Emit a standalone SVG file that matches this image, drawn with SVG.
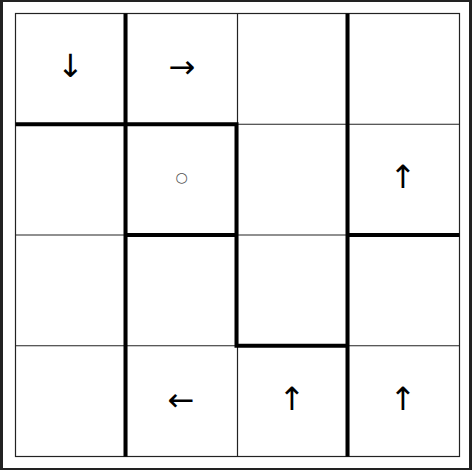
<svg xmlns="http://www.w3.org/2000/svg" width="472" height="470" viewBox="0 0 472 470">
<style>
.thin{stroke:#222;stroke-width:1.2;fill:none}
.thick{stroke:#000;stroke-width:4;stroke-linecap:butt;stroke-linejoin:miter;fill:none}
.sym{font-family:"DejaVu Sans",sans-serif;font-size:32px;fill:#000;text-anchor:middle;dominant-baseline:central}
.dot{font-family:"DejaVu Sans",sans-serif;font-size:14px;fill:#555;text-anchor:middle;dominant-baseline:central}
</style>
<rect x="0" y="0" width="472" height="470" fill="#222"/>
<rect x="3" y="2" width="466" height="466" fill="#fff"/>
<g id="grid">
<rect class="thin" x="15.5" y="13.5" width="444" height="443"/>
<line class="thin" x1="126.5" y1="13.5" x2="126.5" y2="456.5"/>
<line class="thin" x1="237.5" y1="13.5" x2="237.5" y2="456.5"/>
<line class="thin" x1="348.5" y1="13.5" x2="348.5" y2="456.5"/>
<line class="thin" x1="15.5" y1="124.25" x2="459.5" y2="124.25"/>
<line class="thin" x1="15.5" y1="235" x2="459.5" y2="235"/>
<line class="thin" x1="15.5" y1="345.75" x2="459.5" y2="345.75"/>
</g>
<g id="walls">
<line class="thick" x1="125.5" y1="13.5" x2="125.5" y2="456.5"/>
<line class="thick" x1="347.5" y1="13.5" x2="347.5" y2="456.5"/>
<path class="thick" d="M15.5,124.25 H236.5 V345.75 H347.5"/>
<line class="thick" x1="125.5" y1="235" x2="236.5" y2="235"/>
<line class="thick" x1="347.5" y1="235" x2="459.5" y2="235"/>
</g>
<g id="cell-0-0"><text class="sym" x="70.5" y="66">↓</text></g>
<g id="cell-0-1"><text class="sym" x="182" y="67">→</text></g>
<g id="cell-1-1"><text class="dot" x="181.7" y="176.5">○</text></g>
<g id="cell-1-3"><text class="sym" x="403" y="177">↑</text></g>
<g id="cell-3-1"><text class="sym" x="181" y="400">←</text></g>
<g id="cell-3-2"><text class="sym" x="292" y="399">↑</text></g>
<g id="cell-3-3"><text class="sym" x="403" y="399">↑</text></g>
</svg>
